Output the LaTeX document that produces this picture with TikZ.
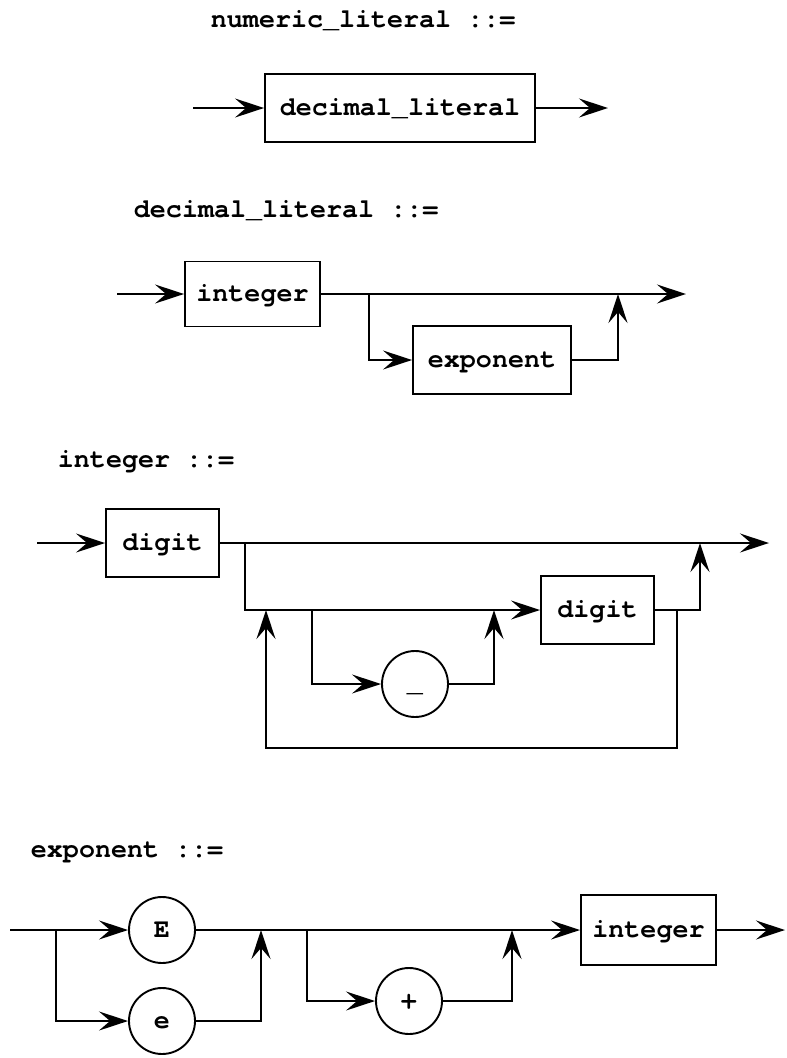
\documentclass[tikz,border=0pt]{standalone}
\usepackage{fontspec}
\setmainfont{TeX Gyre Cursor}
\usetikzlibrary{arrows.meta}
\begin{document}
\begin{tikzpicture}[x=1pt,y=-1pt,
  line width=1.9pt,
  txt/.style={font=\fontsize{26.7}{32}\selectfont\bfseries},
  hdr/.style={txt,anchor=base west,inner sep=0pt},
  box/.style={txt,draw,rectangle,inner sep=0pt,text height=18pt,text depth=4pt},
  term/.style={txt,draw,circle,inner sep=0pt,minimum size=66pt,text height=15pt,text depth=0pt},
  arr/.style={-{Stealth[length=29pt,width=19pt,inset=11pt]}}]
\useasboundingbox (0,0) rectangle (787,1058);
% ---------- numeric_literal ----------
\node[hdr] (h1) at (210,27) {numeric\_literal ::=};
\node[box,minimum width=270pt,minimum height=68pt] (dl) at (400,108) {decimal\_literal};
\coordinate (s1) at (193,108);
\coordinate (e1) at (608,108);
\draw[arr] (s1) -- (dl.west);
\draw[arr] (dl.east) -- (e1);
% ---------- decimal_literal ----------
\node[hdr] (h2) at (133,217) {decimal\_literal ::=};
\node[box,minimum width=135pt,minimum height=65pt] (int1) at (252.5,294) {integer};
\node[box,minimum width=158pt,minimum height=68pt] (exp1) at (492,360) {exponent};
\coordinate (s2) at (117,294);
\coordinate (e2) at (686,294);
\coordinate (j2a) at (369,294);
\coordinate (j2b) at (618,294);
\draw[arr] (s2) -- (int1.west);
\draw[arr] (int1.east) -- (e2);
\draw[arr] (j2a) |- (exp1.west);
\draw[arr] (exp1.east) -| (j2b);
% ---------- integer ----------
\node[hdr] (h3) at (57,467) {integer ::=};
\node[box,minimum width=113pt,minimum height=68pt] (d1) at (162.5,543) {digit};
\node[box,minimum width=113pt,minimum height=68pt] (d2) at (597.5,610) {digit};
\node[term] (us) at (415,684) {\_};
\coordinate (s3) at (37,543);
\coordinate (e3) at (769,543);
\coordinate (j3a) at (245,543);
\coordinate (j3c) at (312,610);
\coordinate (j3d) at (494,610);
\coordinate (j3e) at (700,543);
\coordinate (j3f) at (677,610);
\coordinate (j3g) at (266,610);
\coordinate (lb) at (470,748);
\draw[arr] (s3) -- (d1.west);
\draw[arr] (d1.east) -- (e3);
\draw[arr] (j3a) |- (d2.west);
\draw[arr] (j3c) |- (us.west);
\draw[arr] (us.east) -| (j3d);
\draw[arr] (d2.east) -| (j3e);
\draw[arr] (j3f) |- (lb) -| (j3g);
% ---------- exponent ----------
\node[hdr] (h4) at (30,857) {exponent ::=};
\node[term] (cE) at (162,930) {E};
\node[term] (ce) at (162,1021) {e};
\node[term] (cp) at (409,1001) {+};
\node[box,minimum width=135pt,minimum height=70pt] (int2) at (648.5,930) {integer};
\coordinate (s4) at (10,930);
\coordinate (e4) at (785,930);
\coordinate (j4a) at (56,930);
\coordinate (j4b) at (261,930);
\coordinate (j4c) at (307,930);
\coordinate (j4d) at (512,930);
\draw[arr] (s4) -- (cE.west);
\draw[arr] (cE.east) -- (int2.west);
\draw[arr] (j4a) |- (ce.west);
\draw[arr] (ce.east) -| (j4b);
\draw[arr] (j4c) |- (cp.west);
\draw[arr] (cp.east) -| (j4d);
\draw[arr] (int2.east) -- (e4);
\end{tikzpicture}
\end{document}
